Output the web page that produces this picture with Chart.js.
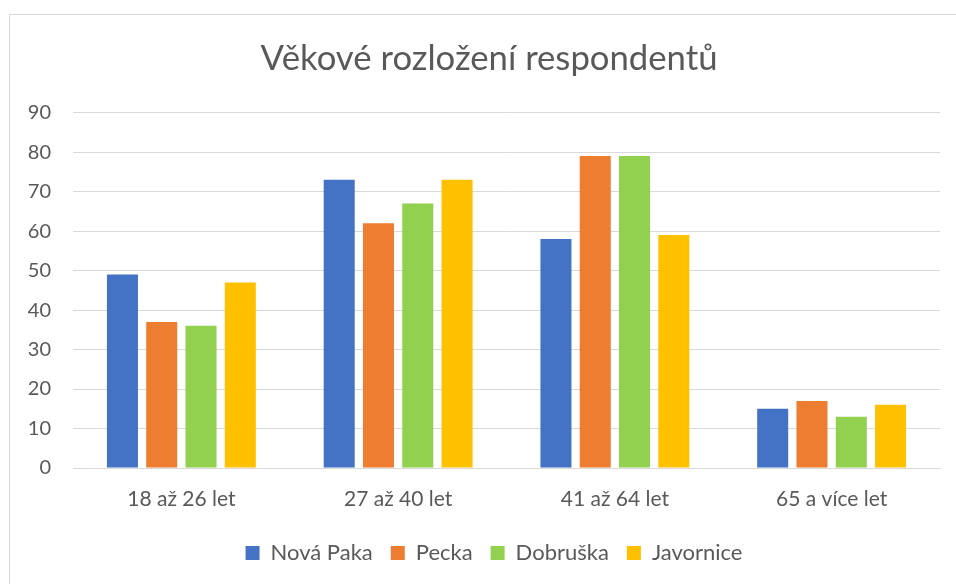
<!DOCTYPE html>
<html>
<head>
<meta charset="utf-8">
<script src="https://cdn.jsdelivr.net/npm/chart.js@4"></script>
<style>
html,body{margin:0;padding:0;background:#fff;overflow:hidden;}
#wrap{position:relative;width:956px;height:584px;overflow:hidden;}
#frame{position:absolute;left:9px;top:14px;width:1000px;height:600px;border:1px solid #d9d9d9;box-sizing:border-box;}
canvas{position:absolute;left:0;top:0;}
</style>
</head>
<body>
<div id="wrap">
<div id="frame"></div>
<canvas id="c" width="956" height="584"></canvas>
</div>
<script>
const titleText = "Věkové rozložení respondentů";
const categories = ["18 až 26 let", "27 až 40 let", "41 až 64 let", "65 a více let"];
const seriesNames = ["Nová Paka", "Pecka", "Dobruška", "Javornice"];
const novaPaka = [49, 73, 58, 15];
const pecka = [37, 62, 79, 17];
const dobruska = [36, 67, 79, 13];
const javornice = [47, 73, 59, 16];
const colors = ["#4472C4", "#ED7D31", "#92D050", "#FFC000"];
const yMin = 0, yMax = 90, yStep = 10;

const seriesValues = [novaPaka, pecka, dobruska, javornice];
const textColor = "#595959";
const fontFamily = "Lato, 'Open Sans', sans-serif";

// The original chart frame is wider than the visible area, so title and legend
// are centred slightly to the right of the canvas centre.
const shiftBlocks = {
  id: "shiftBlocks",
  afterLayout(chart) {
    if (chart.titleBlock) { chart.titleBlock.left += 19; chart.titleBlock.right += 19; }
    if (chart.legend) { chart.legend.left += 24; chart.legend.right += 24; }
  }
};

new Chart(document.getElementById("c"), {
  type: "bar",
  data: {
    labels: categories,
    datasets: seriesNames.map((n, i) => ({
      label: n,
      data: seriesValues[i],
      backgroundColor: colors[i],
      borderWidth: 0,
      categoryPercentage: 0.725,
      barPercentage: 0.79
    }))
  },
  plugins: [shiftBlocks],
  options: {
    responsive: false,
    animation: false,
    devicePixelRatio: 1,
    layout: { padding: { left: 0, right: 16, top: 0, bottom: 10 } },
    plugins: {
      title: {
        display: true,
        text: titleText,
        color: textColor,
        font: { family: fontFamily, size: 34.7, weight: "normal" },
        padding: { top: 38, bottom: 33 }
      },
      legend: {
        position: "bottom",
        labels: {
          color: textColor,
          font: { family: fontFamily, size: 22 },
          boxWidth: 14,
          boxHeight: 14,
          padding: 18
        }
      },
      tooltip: { enabled: false }
    },
    scales: {
      x: {
        afterFit: s => { s.height = 56; },
        grid: { display: false, drawTicks: false },
        border: { display: true, color: "#d9d9d9", width: 1 },
        ticks: { color: textColor, font: { family: fontFamily, size: 21 }, padding: 19 }
      },
      y: {
        min: yMin, max: yMax,
        afterFit: s => { s.width = 73; },
        grid: { color: "#d9d9d9", lineWidth: 1, drawTicks: false },
        border: { display: false },
        ticks: { stepSize: yStep, color: textColor, font: { family: fontFamily, size: 20 }, padding: 22 }
      }
    }
  }
});
</script>
</body>
</html>
